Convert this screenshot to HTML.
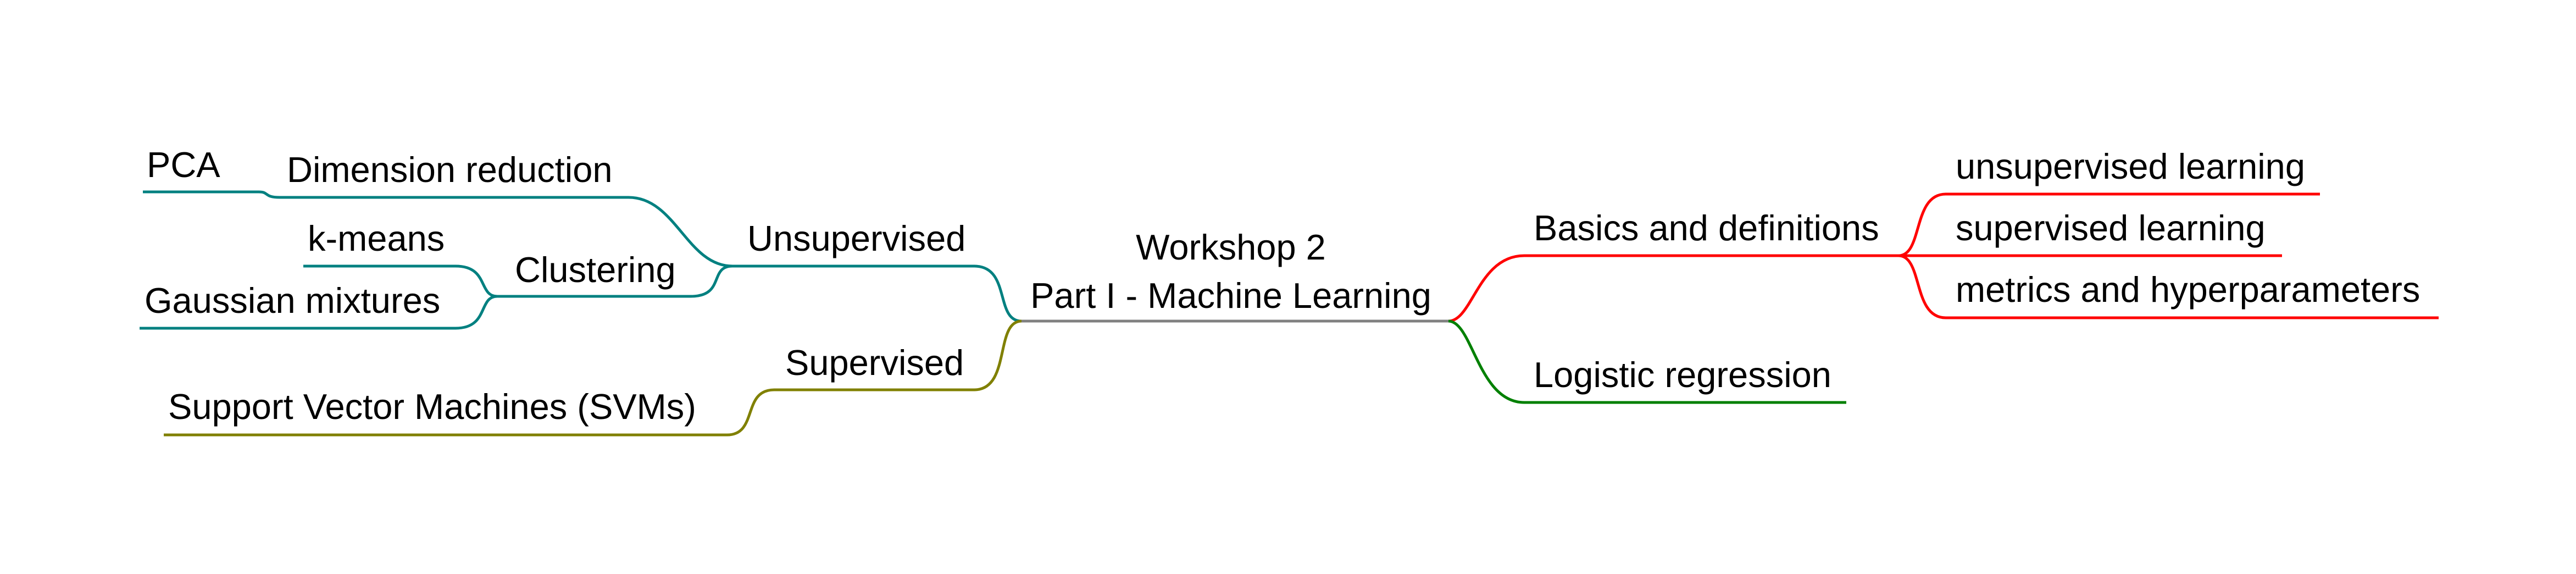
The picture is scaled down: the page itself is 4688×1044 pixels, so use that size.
<!DOCTYPE html>
<html><head><meta charset="utf-8"><style>
html,body{margin:0;padding:0;background:#fff;}
svg{display:block}
text{font-family:"Liberation Sans",Arial,sans-serif;font-size:65px;fill:#000;}
</style></head><body>
<svg width="4688" height="1044" viewBox="0 0 4688 1044" xmlns="http://www.w3.org/2000/svg">
<g fill="none" stroke-width="5" stroke-linecap="butt">
<path d="M1859 584 H2636" stroke="#808080"/>
<path d="M2636 584 C2680 584 2690 465 2774 465 H3455" stroke="#ff0000"/>
<path d="M3455 465 C3500 465 3480 353 3541 353 H4222" stroke="#ff0000"/>
<path d="M3455 465 H4153" stroke="#ff0000"/>
<path d="M3455 465 C3500 465 3480 578 3541 578 H4438" stroke="#ff0000"/>
<path d="M2636 584 C2680 584 2690 732 2774 732 H3360" stroke="#008000"/>
<path d="M1859 584 C1810 584 1840 484 1773 484 H1333" stroke="#008080"/>
<path d="M1333 484 C1250 484 1230 359 1144 359 H509 C480 359 490 349 471 349 H260" stroke="#008080"/>
<path d="M1333 484 C1290 484 1320 539 1257 539 H905" stroke="#008080"/>
<path d="M905 539 C870 539 890 484 829 484 H552" stroke="#008080"/>
<path d="M905 539 C870 539 890 597 829 597 H254" stroke="#008080"/>
<path d="M1859 584 C1810 584 1840 709 1773 709 H1409" stroke="#808000"/>
<path d="M1409 709 C1350 709 1380 791 1323 791 H298" stroke="#808000"/>
</g>
<text x="2240" y="472" text-anchor="middle">Workshop 2</text>
<text x="2240" y="560" text-anchor="middle">Part I - Machine Learning</text>
<text x="2791" y="437">Basics and definitions</text>
<text x="3559" y="325">unsupervised learning</text>
<text x="3559" y="437">supervised learning</text>
<text x="3559" y="549">metrics and hyperparameters</text>
<text x="2791" y="704">Logistic regression</text>
<text x="1360" y="456">Unsupervised</text>
<text x="522" y="331">Dimension reduction</text>
<text x="267" y="322">PCA</text>
<text x="937" y="513">Clustering</text>
<text x="560" y="456">k-means</text>
<text x="263" y="569">Gaussian mixtures</text>
<text x="1429" y="682">Supervised</text>
<text x="306" y="762">Support Vector Machines (SVMs)</text>
</svg>
</body></html>
